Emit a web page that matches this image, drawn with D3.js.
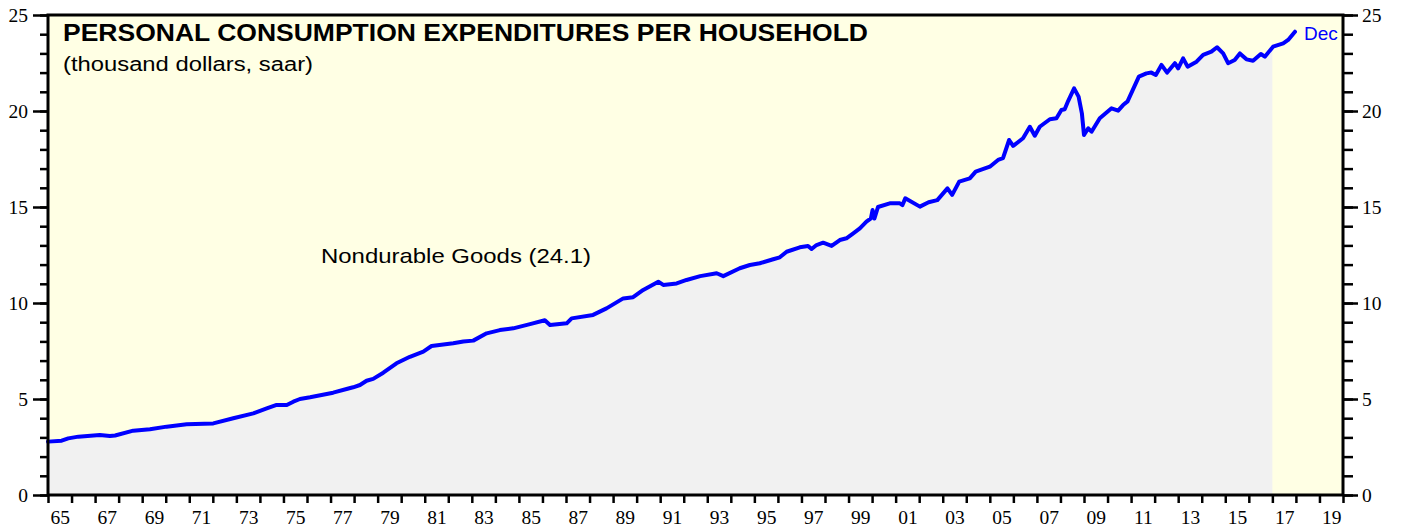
<!DOCTYPE html>
<html>
<head>
<meta charset="utf-8">
<script src="https://cdn.jsdelivr.net/npm/d3@7"></script>
<style>
  body { margin: 0; background: #fff; }
  svg { display: block; }
</style>
</head>
<body>
<svg id="chart" width="1403" height="531"></svg>
<script>
// monthly-ish readings (year as decimal, thousand dollars)
var years = [
  1965.0, 1965.58, 1965.86, 1966.29, 1967.2, 1967.63, 1967.85, 1968.62, 1969.33, 1970.04,
  1970.89, 1972.02, 1972.87, 1973.72, 1974.29, 1974.71, 1975.14, 1975.42, 1975.7, 1976.13,
  1977.11, 1977.68, 1977.96, 1978.25, 1978.53, 1978.81, 1979.24, 1979.8, 1980.37, 1980.94,
  1981.29, 1982.21, 1982.64, 1983.06, 1983.63, 1984.19, 1984.76, 1985.47, 1986.1, 1986.32,
  1987.03, 1987.24, 1988.15, 1988.72, 1989.43, 1989.85, 1990.28, 1990.92, 1991.13, 1991.7,
  1992.12, 1992.7, 1993.4, 1993.68, 1994.38, 1994.81, 1995.23, 1995.8, 1996.08, 1996.37,
  1996.93, 1997.28, 1997.43, 1997.64, 1997.92, 1998.28, 1998.63, 1998.91, 1999.2, 1999.48,
  1999.76, 1999.95, 2000.02, 2000.1, 2000.25, 2000.75, 2001.18, 2001.29, 2001.41, 2002.03,
  2002.4, 2002.77, 2003.2, 2003.4, 2003.7, 2003.94, 2004.15, 2004.4, 2005.0, 2005.35,
  2005.56, 2005.82, 2005.99, 2006.41, 2006.7, 2006.91, 2007.12, 2007.55, 2007.83, 2008.04,
  2008.18, 2008.33, 2008.58, 2008.77, 2008.91, 2009.0, 2009.18, 2009.32, 2009.67, 2010.17,
  2010.45, 2010.66, 2010.85, 2011.33, 2011.65, 2011.86, 2012.05, 2012.29, 2012.53, 2012.86,
  2013.0, 2013.21, 2013.4, 2013.78, 2014.06, 2014.41, 2014.65, 2014.91, 2015.12, 2015.4,
  2015.62, 2015.9, 2016.18, 2016.51, 2016.68, 2017.03, 2017.46, 2017.67, 2017.96
];
var nondurables = [
  2.78, 2.83, 2.95, 3.04, 3.12, 3.07, 3.10, 3.35, 3.42, 3.56,
  3.68, 3.73, 4.00, 4.25, 4.51, 4.69, 4.69, 4.86, 5.00, 5.09,
  5.33, 5.52, 5.61, 5.73, 5.95, 6.05, 6.37, 6.86, 7.20, 7.47,
  7.76, 7.90, 7.99, 8.04, 8.42, 8.59, 8.68, 8.90, 9.10, 8.85,
  8.94, 9.20, 9.38, 9.72, 10.24, 10.30, 10.68, 11.11, 10.94, 11.02,
  11.20, 11.40, 11.55, 11.40, 11.81, 11.98, 12.07, 12.28, 12.38, 12.67,
  12.90, 12.97, 12.81, 13.02, 13.14, 12.97, 13.28, 13.37, 13.63, 13.89,
  14.24, 14.41, 14.84, 14.40, 15.00, 15.19, 15.19, 15.10, 15.45, 15.02,
  15.25, 15.36, 15.97, 15.63, 16.32, 16.41, 16.49, 16.84, 17.10, 17.45,
  17.54, 18.49, 18.18, 18.58, 19.18, 18.71, 19.18, 19.57, 19.62, 20.05,
  20.09, 20.53, 21.18, 20.75, 19.88, 18.75, 19.10, 18.92, 19.62, 20.14,
  20.02, 20.31, 20.50, 21.79, 21.96, 22.00, 21.88, 22.40, 22.00, 22.49,
  22.22, 22.74, 22.31, 22.57, 22.92, 23.09, 23.32, 23.00, 22.49, 22.66,
  23.00, 22.69, 22.62, 22.97, 22.83, 23.35, 23.52, 23.70, 24.13
];
var yMajor = [0, 5, 10, 15, 20, 25];
var yMinor = d3.range(0, 26, 1);
var xTicks = d3.range(1965, 2021, 1);
var xLabels = ["65","67","69","71","73","75","77","79","81","83","85","87","89","91","93","95",
               "97","99","01","03","05","07","09","11","13","15","17","19"];
var labelYears = d3.range(1965, 2020, 2);
var shadeEnd = 2017.0;

var svg = d3.select("#chart");
var mLeft = 48, mRight = 1343, mTop = 15, mBottom = 495;

var x = d3.scaleLinear().domain([1965, 2020]).range([mLeft, mRight]);
var y = d3.scaleLinear().domain([0, 25]).range([mBottom, mTop]);

var data = years.map(function(d, i) { return {t: d, v: nondurables[i]}; });

// yellow backdrop
svg.append("rect")
  .attr("x", mLeft).attr("y", mTop)
  .attr("width", mRight - mLeft).attr("height", mBottom - mTop)
  .attr("fill", "#ffffe4");

// grey area under the line, stops at start of 2017
svg.append("clipPath").attr("id", "shadeClip")
  .append("rect")
  .attr("x", mLeft).attr("y", mTop)
  .attr("width", x(shadeEnd) - mLeft).attr("height", mBottom - mTop);

svg.append("path")
  .datum(data)
  .attr("clip-path", "url(#shadeClip)")
  .attr("fill", "#f1f1f1")
  .attr("d", d3.area().x(function(d) { return x(d.t); }).y0(mBottom).y1(function(d) { return y(d.v); }));

svg.append("path")
  .datum(data)
  .attr("fill", "none")
  .attr("stroke", "#0000ff")
  .attr("stroke-width", 4)
  .attr("stroke-linejoin", "round")
  .attr("stroke-linecap", "round")
  .attr("d", d3.line().x(function(d) { return x(d.t); }).y(function(d) { return y(d.v); }));

// axes
function styleAxis(g) {
  g.select(".domain").remove();
  g.selectAll("line").attr("stroke", "#000").attr("stroke-width", 2.5);
  g.selectAll("text").attr("font-family", "'Liberation Serif', 'Times New Roman', serif")
    .attr("font-size", 19.5).attr("fill", "#000");
}

svg.append("g").attr("transform", "translate(" + mLeft + ",0)")
  .call(d3.axisLeft(y).tickValues(yMinor).tickSize(8).tickFormat(""))
  .call(styleAxis);
svg.append("g").attr("transform", "translate(" + mLeft + ",0)")
  .call(d3.axisLeft(y).tickValues(yMajor).tickSize(15).tickPadding(5).tickFormat(d3.format("d")))
  .call(styleAxis);
svg.append("g").attr("transform", "translate(" + mRight + ",0)")
  .call(d3.axisRight(y).tickValues(yMinor).tickSize(10).tickFormat(""))
  .call(styleAxis);
svg.append("g").attr("transform", "translate(" + mRight + ",0)")
  .call(d3.axisRight(y).tickValues(yMajor).tickSize(15).tickPadding(4).tickFormat(d3.format("d")))
  .call(styleAxis);

svg.append("g").attr("transform", "translate(0," + mBottom + ")")
  .call(d3.axisBottom(x).tickValues(xTicks).tickSize(8).tickFormat(""))
  .call(styleAxis);
svg.append("g").attr("transform", "translate(0," + mBottom + ")")
  .call(d3.axisBottom(x).tickValues(labelYears.map(function(d) { return d + 0.5; }))
    .tickSize(0).tickPadding(15).tickFormat(function(d, i) { return xLabels[i]; }))
  .call(styleAxis);

// frame
svg.append("rect")
  .attr("x", mLeft).attr("y", mTop)
  .attr("width", mRight - mLeft).attr("height", mBottom - mTop)
  .attr("fill", "none").attr("stroke", "#000").attr("stroke-width", 3);

// texts
var sans = "'Liberation Sans', Arial, Helvetica, sans-serif";
svg.append("text")
  .attr("x", 63).attr("y", 41)
  .attr("font-family", sans).attr("font-weight", "bold").attr("font-size", 23)
  .attr("textLength", 805).attr("lengthAdjust", "spacingAndGlyphs")
  .text("PERSONAL CONSUMPTION EXPENDITURES PER HOUSEHOLD");
svg.append("text")
  .attr("x", 63).attr("y", 71)
  .attr("font-family", sans).attr("font-size", 20)
  .attr("textLength", 250).attr("lengthAdjust", "spacingAndGlyphs")
  .text("(thousand dollars, saar)");
svg.append("text")
  .attr("x", 321).attr("y", 263)
  .attr("font-family", sans).attr("font-size", 21)
  .attr("textLength", 270).attr("lengthAdjust", "spacingAndGlyphs")
  .text("Nondurable Goods (24.1)");
svg.append("text")
  .attr("x", 1304).attr("y", 40)
  .attr("font-family", sans).attr("font-size", 19).attr("fill", "#0000ff")
  .text("Dec");
</script>
</body>
</html>
